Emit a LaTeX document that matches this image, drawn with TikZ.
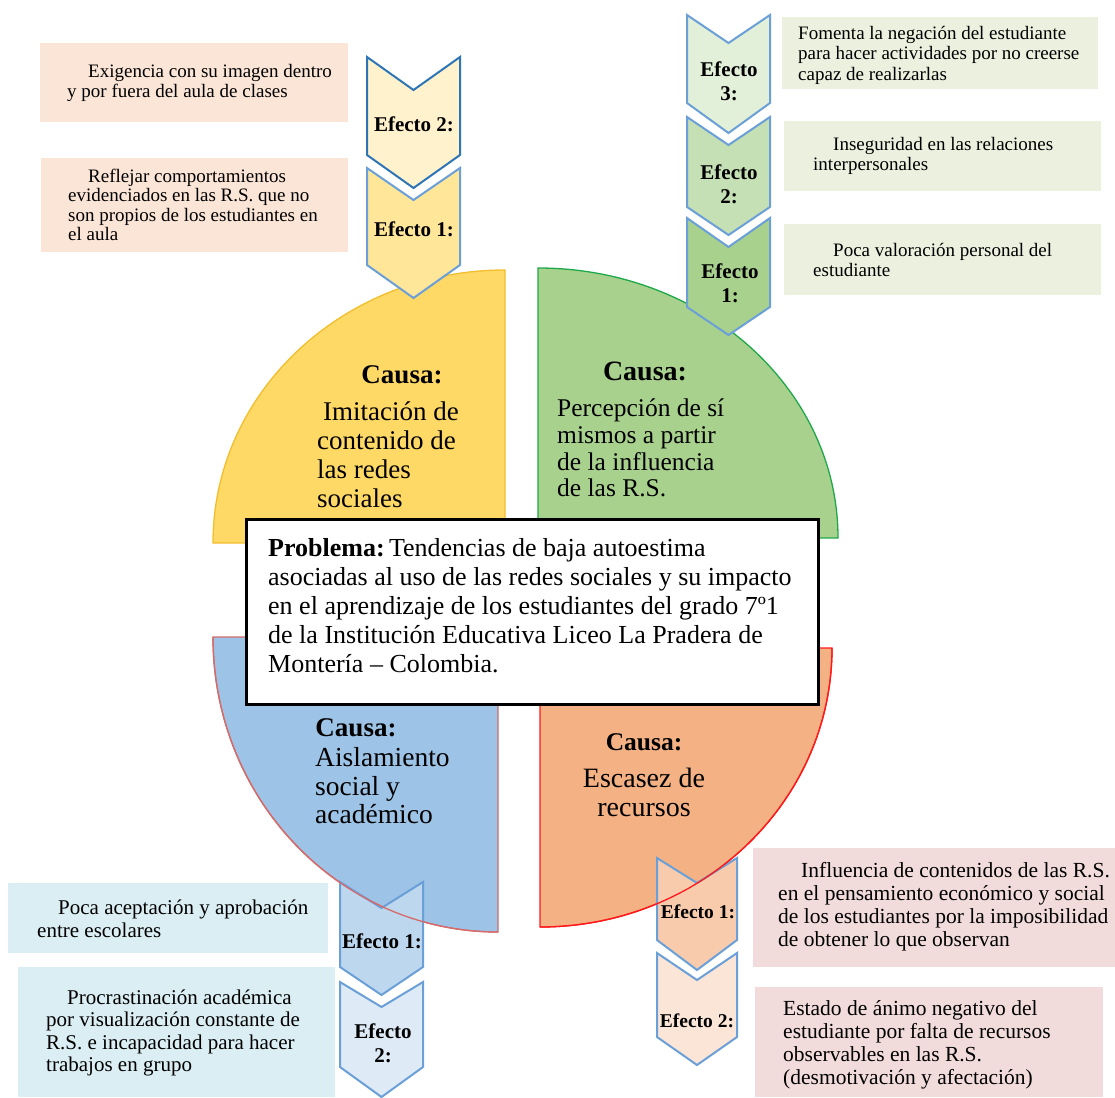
\documentclass[tikz,border=0pt]{standalone}
\usepackage{fontspec}
\setmainfont{Liberation Serif}
\definecolor{qyellow}{HTML}{FFD966}
\definecolor{qyellowD}{HTML}{F2BE2E}
\definecolor{qgreen}{HTML}{A9D18E}
\definecolor{qgreenD}{HTML}{1FA84A}
\definecolor{qblue}{HTML}{9DC3E6}
\definecolor{qblueD}{HTML}{D46A6A}
\definecolor{qorange}{HTML}{F4B183}
\definecolor{qorangeD}{HTML}{FF1A1A}
\definecolor{chevD}{HTML}{2E75B6}
\definecolor{chevL}{HTML}{6A9FD8}
\definecolor{bxTL}{HTML}{FBE5D6}
\definecolor{bxTR}{HTML}{EBF1DE}
\definecolor{bxBL}{HTML}{DAEEF3}
\definecolor{bxBR}{HTML}{F2DCDB}
\definecolor{cvTLa}{HTML}{FFF2CC}
\definecolor{cvTLb}{HTML}{FFE699}
\definecolor{cvTRa}{HTML}{E2F0D9}
\definecolor{cvTRb}{HTML}{C5E0B4}
\definecolor{cvTRc}{HTML}{A9D18E}
\definecolor{cvBLa}{HTML}{BDD7EE}
\definecolor{cvBLb}{HTML}{DEEBF7}
\definecolor{cvBRa}{HTML}{F8CBAD}
\definecolor{cvBRb}{HTML}{FBE5D6}
% xl, xr, ytop, ynotch, ybot, ypoint, style
\newcommand\chevpath[7]{\path[chevron,#7] (#1,#3) -- ({(#1+#2)/2},#4) -- (#2,#3) -- (#2,#5) -- ({(#1+#2)/2},#6) -- (#1,#5) -- cycle;}
\begin{document}
\begin{tikzpicture}[x=1pt,y=-1pt,
  chevron/.style={draw=chevL, line width=2pt, line join=miter},
  efx/.style={font=\bfseries\fontsize{21}{24}\selectfont, align=center, inner sep=0},
  chead/.style={font=\bfseries\fontsize{27}{29}\selectfont, inner sep=0},
  cbody/.style={font=\fontsize{27}{29}\selectfont, inner sep=0},
  bx/.style={anchor=north west, inner sep=0, draw=none},
  txTL/.style={anchor=west, align=left, inner sep=0, font=\fontsize{19}{19.5}\selectfont},
  txTR/.style={anchor=west, align=left, inner sep=0, font=\fontsize{19}{20.5}\selectfont},
  txBL/.style={anchor=west, align=left, inner sep=0, font=\fontsize{21}{22.5}\selectfont},
  txBR/.style={anchor=west, align=left, inner sep=0, font=\fontsize{21.5}{23}\selectfont},
  quadline/.style={line width=1.3pt}
]
\useasboundingbox (0,0) rectangle (1115,1097);

% ---- quadrants ----
\path[quadline, draw=qyellowD, fill=qyellow] (505,543) -- (213,543) arc[start angle=180, end angle=90, x radius=292pt, y radius=273pt] -- cycle;
\path[quadline, draw=qgreenD, fill=qgreen] (538,538) -- (538,268) arc[start angle=90, end angle=0, x radius=300pt, y radius=270pt] -- cycle;
\path[quadline, draw=qblueD, fill=qblue] (498,637) -- (213,637) arc[start angle=180, end angle=270, x radius=285pt, y radius=295pt] -- cycle;
\path[quadline, draw=qorangeD, fill=qorange] (540,648) -- (832,648) arc[start angle=0, end angle=-90, x radius=292pt, y radius=279pt] -- cycle;

% ---- chevrons ----
\chevpath{367}{460}{57}{90}{155}{188}{fill=cvTLa, draw=chevD}
\chevpath{367}{460}{168}{200}{265}{298}{fill=cvTLb}
\chevpath{687}{770}{15}{43}{103}{133}{fill=cvTRa}
\chevpath{687}{770}{117}{145}{207}{235}{fill=cvTRb}
\chevpath{687}{770}{218}{247}{307}{335}{fill=cvTRc}
\chevpath{340}{423}{882}{908}{967}{995}{fill=cvBLa}
\chevpath{340}{423}{982}{1007}{1067}{1097}{fill=cvBLb}
\chevpath{657}{737}{858}{883}{940}{970}{fill=cvBRa}
\chevpath{657}{737}{953}{980}{1037}{1065}{fill=cvBRb}

% arcs of the lower quadrants pass over their first chevrons
\draw[quadline, draw=qblueD] (213,637) arc[start angle=180, end angle=270, x radius=285pt, y radius=295pt];
\draw[quadline, draw=qorangeD] (832,648) arc[start angle=0, end angle=-90, x radius=292pt, y radius=279pt];

% ---- chevron labels ----
\node[efx] (tlE2) at (414,124) {Efecto 2:};
\node[efx] (tlE1) at (414,229) {Efecto 1:};
\node[efx] (trE3) at (729,81) {Efecto\\3:};
\node[efx] (trE2) at (729,184) {Efecto\\2:};
\node[efx] (trE1) at (730,283) {Efecto\\1:};
\node[efx] (blE1) at (382,941) {Efecto 1:};
\node[efx] (blE2) at (383,1043) {Efecto\\2:};
\node[efx, font=\bfseries\fontsize{19.5}{23}\selectfont] (brE1) at (698,912) {Efecto 1:};
\node[efx, font=\bfseries\fontsize{19.5}{23}\selectfont] (brE2) at (697,1021) {Efecto 2:};

% ---- text boxes top-left ----
\node[bx, fill=bxTL, minimum width=308pt, minimum height=79pt] (tlB2) at (40,43) {};
\node[txTL] (tlT2) at (67,83) {\hspace*{21pt}Exigencia con su imagen dentro\\y por fuera del aula de clases};
\node[bx, fill=bxTL, minimum width=307pt, minimum height=94pt] (tlB1) at (41,158) {};
\node[txTL] (tlT1) at (68,205) {\hspace*{20pt}Reflejar comportamientos\\evidenciados en las R.S. que no\\son propios de los estudiantes en\\el aula};

% ---- text boxes top-right ----
\node[bx, fill=bxTR, minimum width=316pt, minimum height=72pt] (trB3) at (782,17) {};
\node[txTR] (trT3) at (798,55) {Fomenta la negación del estudiante\\para hacer actividades por no creerse\\capaz de realizarlas};
\node[bx, fill=bxTR, minimum width=317pt, minimum height=70pt] (trB2) at (784,121) {};
\node[txTR] (trT2) at (813,156) {\hspace*{20pt}Inseguridad en las relaciones\\interpersonales};
\node[bx, fill=bxTR, minimum width=317pt, minimum height=71pt] (trB1) at (784,224) {};
\node[txTR] (trT1) at (813,260) {\hspace*{20pt}Poca valoración personal del\\estudiante};

% ---- text boxes bottom-left ----
\node[bx, fill=bxBL, minimum width=320pt, minimum height=70pt] (blB1) at (8,883) {};
\node[txBL] (blT1) at (37,919) {\hspace*{21pt}Poca aceptación y aprobación\\entre escolares};
\node[bx, fill=bxBL, minimum width=317pt, minimum height=130pt] (blB2) at (18,967) {};
\node[txBL] (blT2) at (46,1033) {\hspace*{21pt}Procrastinación académica\\por visualización constante de\\R.S. e incapacidad para hacer\\trabajos en grupo};

% ---- text boxes bottom-right ----
\node[bx, fill=bxBR, minimum width=362pt, minimum height=119pt] (brB1) at (753,848) {};
\node[txBR] (brT1) at (778,907) {\hspace*{23pt}Influencia de contenidos de las R.S.\\en el pensamiento económico y social\\de los estudiantes por la imposibilidad\\de obtener lo que observan};
\node[bx, fill=bxBR, minimum width=348pt, minimum height=110pt] (brB2) at (755,987) {};
\node[txBR] (brT2) at (783,1045) {Estado de ánimo negativo del\\estudiante por falta de recursos\\observables en las R.S.\\(desmotivación y afectación)};

% ---- cause texts ----
\node[chead] (c1h) at (402,375) {Causa:};
\node[cbody, anchor=west, align=left] (c1b) at (317,455) {\hspace*{6pt}Imitación de\\contenido de\\las redes\\sociales};
\node[chead, font=\bfseries\fontsize{28}{29}\selectfont] (c2h) at (645,371) {Causa:};
\node[cbody, anchor=west, align=left, font=\fontsize{25.5}{26.7}\selectfont] (c2b) at (557,448) {Percepción de sí\\mismos a partir\\de la influencia\\de las R.S.};
\node[chead] (c3h) at (356,728) {Causa:};
\node[cbody, anchor=west, align=left, font=\fontsize{27.5}{28.5}\selectfont] (c3b) at (315,786) {Aislamiento\\social y\\académico};
\node[chead, font=\bfseries\fontsize{25.5}{28}\selectfont] (c4h) at (644,742) {Causa:};
\node[cbody, align=center, font=\fontsize{28}{29}\selectfont] (c4b) at (644,792) {Escasez de\\recursos};

% ---- problem box ----
\node[draw=black, line width=2.5pt, fill=white, minimum width=572pt, minimum height=185pt, anchor=north west, inner sep=0] (prob) at (245,518) {};
\node[anchor=west, align=left, inner sep=0, font=\fontsize{26}{29}\selectfont] (probt) at (268,606) {\textbf{Problema:}\,Tendencias de baja autoestima\\asociadas al uso de las redes sociales y su impacto\\en el aprendizaje de los estudiantes del grado 7º1\\de la Institución Educativa Liceo La Pradera de\\Montería – Colombia.};
\end{tikzpicture}
\end{document}
